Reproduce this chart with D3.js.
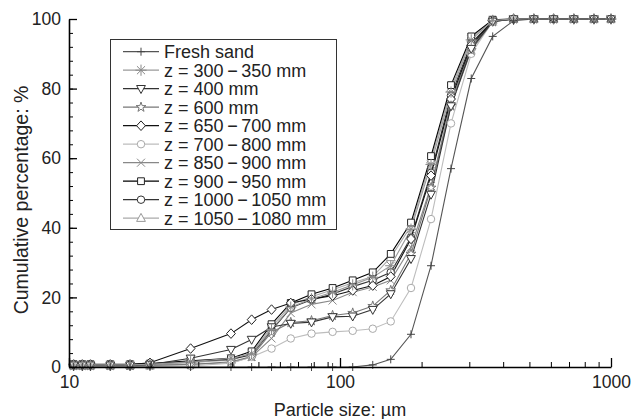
<!DOCTYPE html>
<html><head><meta charset="utf-8">
<script src="https://cdn.jsdelivr.net/npm/d3@7/dist/d3.min.js"></script>
<style>body{margin:0;background:#fff}svg{display:block}</style>
</head><body><svg id="c" width="632" height="419"></svg>
<script>
// ---- data ----
const sizes = [10.4, 11.2, 12.0, 14.2, 16.8, 19.9, 28.1, 39.6, 47.2, 55.9, 65.8, 78.5, 93.9, 111.4, 132.1, 153.9, 182.8, 216.7, 256.8, 305, 366, 437, 519, 614, 729, 865, 1000];
const freshSand = [0,0,0,0,0,0,0,0,0,0,0,0,0,0,0.6,2.2,9.4,29.1,57,82.9,95,99.5,100,100,100,100,100];
const z300_350 = [0.6,0.6,0.6,0.6,0.6,0.8,1.5,2.5,3.8,10.8,17.2,19.6,21.5,23.6,25.8,29.1,39.6,58.2,79,94,99.6,100,100,100,100,100,100];
const z400 = [0.5,0.5,0.5,0.5,0.5,0.7,2.5,5.0,7.9,11.5,12.5,12.9,14.4,14.6,16.5,21,31.1,49.6,75,91.5,99.3,100,100,100,100,100,100];
const z600 = [0.4,0.4,0.4,0.4,0.4,0.5,0.7,1.5,3.0,10.0,12.8,13.3,14.8,15.5,17.5,22.0,32.5,51.5,75,91,99.2,100,100,100,100,100,100];
const z650_700 = [0.7,0.7,0.7,0.7,0.7,1.2,5.3,9.6,13.6,16.5,18.4,19.5,20.5,22.0,23.4,26.0,36.8,55.0,77,92.5,99.4,100,100,100,100,100,100];
const z700_800 = [0.2,0.2,0.2,0.2,0.2,0.3,0.3,1.1,2.9,5.3,8.2,9.6,10.1,10.4,11.0,13.1,22.7,42.5,70,90,99.3,99.9,100,100,100,100,100];
const z850_900 = [0.3,0.3,0.3,0.3,0.3,0.4,0.8,1.2,2.9,8.2,15.5,18.0,19.1,21.5,23.0,24.9,34.4,52,76,92,99.3,100,100,100,100,100,100];
const z900_950 = [0.8,0.8,0.8,0.8,0.8,1.0,1.8,2.5,4.5,12.3,18.4,20.9,22.7,24.9,27.2,32.5,41.5,60.6,81,95,99.8,100,100,100,100,100,100];
const z1000_1050 = [0.7,0.7,0.7,0.7,0.7,0.9,1.6,2.2,3.5,10.5,17.0,19.3,21.0,23.1,24.9,27.2,37.2,55.8,78,93,99.5,100,100,100,100,100,100];
const z1050_1080 = [0.5,0.5,0.5,0.5,0.5,0.6,1.2,2.0,4.0,11.5,17.8,20.2,22.2,24.2,26.0,31.5,40.5,59.5,80,94.5,99.7,100,100,100,100,100,100];
const xTicks = [10, 100, 1000];
const yTicks = [0, 20, 40, 60, 80, 100];
const seriesLabels = ["Fresh sand","300\u2009\u2212\u2009350 mm","400 mm","600 mm","650\u2009\u2212\u2009700 mm","700\u2009\u2212\u2009800 mm","850\u2009\u2212\u2009900 mm","900\u2009\u2212\u2009950 mm","1000\u2009\u2212\u20091050 mm","1050\u2009\u2212\u20091080 mm"];

// ---- styles ----
const series = [
  {label: seriesLabels[0], z:false, v: freshSand,  line:"#555", mk:"#444", sym:"plus"},
  {label: seriesLabels[1], z:true,  v: z300_350,   line:"#9a9a9a", mk:"#8a8a8a", sym:"asterisk"},
  {label: seriesLabels[2], z:true,  v: z400,       line:"#333", mk:"#333", sym:"tridown"},
  {label: seriesLabels[3], z:true,  v: z600,       line:"#777", mk:"#777", sym:"star"},
  {label: seriesLabels[4], z:true,  v: z650_700,   line:"#111", mk:"#222", sym:"diamond"},
  {label: seriesLabels[5], z:true,  v: z700_800,   line:"#bdbdbd", mk:"#aaa", sym:"circle"},
  {label: seriesLabels[6], z:true,  v: z850_900,   line:"#888", mk:"#888", sym:"cross"},
  {label: seriesLabels[7], z:true,  v: z900_950,   line:"#000", mk:"#222", sym:"square"},
  {label: seriesLabels[8], z:true,  v: z1000_1050, line:"#333", mk:"#333", sym:"circle"},
  {label: seriesLabels[9], z:true,  v: z1050_1080, line:"#aaa", mk:"#999", sym:"triup"}
];

function symPath(s){
  const r = 4;
  switch(s){
    case "plus": return `M${-r},0H${r}M0,${-r}V${r}`;
    case "cross": return `M${-r},${-r}L${r},${r}M${-r},${r}L${r},${-r}`;
    case "asterisk": { const a=r*1.4, b=a*0.72; return `M${-a},0H${a}M0,${-a}V${a}M${-b},${-b}L${b},${b}M${-b},${b}L${b},${-b}`; }
    case "tridown": return `M${-r*1.1},${-r*0.8}H${r*1.1}L0,${r*1.2}Z`;
    case "triup": return `M${-r*1.1},${r*0.8}H${r*1.1}L0,${-r*1.2}Z`;
    case "diamond": return `M0,${-r*1.2}L${r*1.1},0L0,${r*1.2}L${-r*1.1},0Z`;
    case "square": return `M${-r*0.85},${-r*0.85}h${r*1.7}v${r*1.7}h${-r*1.7}Z`;
    case "circle": return d3.symbol(d3.symbolCircle, 44)();
    case "star": return d3.symbol(d3.symbolStar, 30)();
  }
}
const filled = s => !["plus","cross","asterisk"].includes(s);

const svg = d3.select("#c");
const x = d3.scaleLog().domain([10,1000]).range([69,611]);
const y = d3.scaleLinear().domain([0,100]).range([367,19]);
const font = "'Liberation Sans', Arial, sans-serif";

// lines & markers
const lineGen = d3.line().x((d,i)=>x(sizes[i])).y(d=>y(d));
const g = svg.append("g");
series.slice().reverse().forEach(s=>{
  g.append("path").attr("d", lineGen(s.v)).attr("fill","none").attr("stroke",s.line).attr("stroke-width",1.1);
});
series.slice().reverse().forEach(s=>{
  g.append("g").selectAll("path").data(s.v).join("path")
    .attr("transform",(d,i)=>`translate(${x(sizes[i])},${y(d)})`)
    .attr("d", symPath(s.sym))
    .attr("fill", filled(s.sym) ? "#fff" : "none")
    .attr("stroke", s.mk).attr("stroke-width", 1);
});

// axes
function styleAxis(sel){
  sel.selectAll("path.domain").attr("stroke","#000").attr("stroke-width",1.6);
  sel.selectAll(".tick line").attr("stroke","#000").attr("stroke-width",1.3);
  sel.selectAll("text").attr("font-family",font).attr("font-size",17.5).attr("fill","#222");
}
const yMinor = svg.append("g").attr("transform","translate(69,0)")
  .call(d3.axisLeft(y).tickValues(d3.range(0,101,4)).tickSize(-4).tickFormat(""));
yMinor.select(".domain").remove();
yMinor.selectAll(".tick line").attr("stroke","#000");
const xMinorVals = [];
[10,100].forEach(b=>{for(let k=2;k<=9;k++) xMinorVals.push(b*k);});
const xMinor = svg.append("g").attr("transform","translate(0,367)")
  .call(d3.axisBottom(x).tickValues(xMinorVals).tickSize(-5).tickFormat(""));
xMinor.select(".domain").remove();
xMinor.selectAll(".tick line").attr("stroke","#000");

const yAx = svg.append("g").attr("transform","translate(69,0)")
  .call(d3.axisLeft(y).tickValues(yTicks).tickSize(-8).tickSizeOuter(0).tickPadding(8).tickFormat(d3.format("d")));
styleAxis(yAx);
const xAx = svg.append("g").attr("transform","translate(0,367)")
  .call(d3.axisBottom(x).tickValues(xTicks).tickSize(-9).tickSizeOuter(0).tickPadding(9).tickFormat(d3.format("d")));
styleAxis(xAx);

svg.append("text").attr("x",340).attr("y",410).attr("text-anchor","middle").attr("dy","0.35em")
  .attr("font-family",font).attr("font-size",18).attr("fill","#222").text("Particle size: \u00b5m");
svg.append("text").attr("transform","translate(21,200) rotate(-90)").attr("text-anchor","middle").attr("dy","0.35em")
  .attr("font-family",font).attr("font-size",19.5).attr("fill","#222").text("Cumulative percentage: %");

// legend
const lg = svg.append("g");
lg.append("rect").attr("x",110.5).attr("y",39.5).attr("width",226).attr("height",190)
  .attr("fill","#fff").attr("stroke","#333").attr("stroke-width",1);
series.forEach((s,i)=>{
  const yy = 51.7 + i*18.5;
  lg.append("line").attr("x1",123).attr("x2",159).attr("y1",yy).attr("y2",yy).attr("stroke",s.line).attr("stroke-width",1.3);
  lg.append("path").attr("transform",`translate(141,${yy})`).attr("d",symPath(s.sym))
    .attr("fill", filled(s.sym)?"#fff":"none").attr("stroke",s.mk).attr("stroke-width",1);
  const t = lg.append("text").attr("x",164).attr("y",yy).attr("dy","0.36em")
    .attr("font-family",font).attr("font-size",18).attr("fill","#222");
  t.text((s.z ? "z = " : "") + s.label);
});
</script></body></html>
